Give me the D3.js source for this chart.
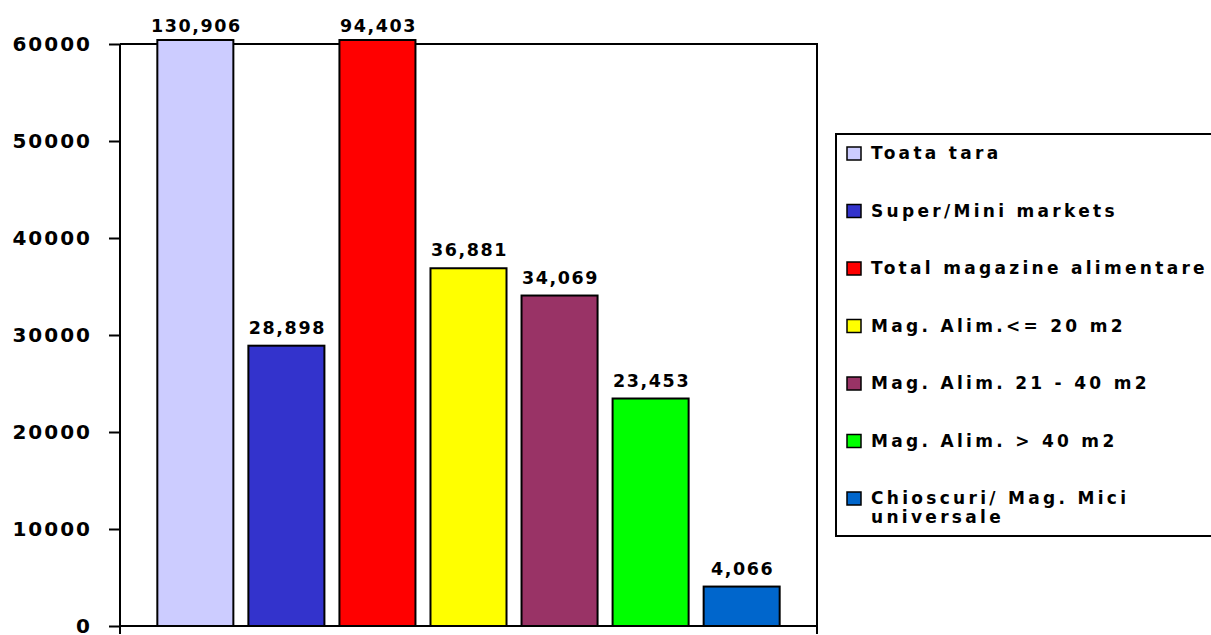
<!DOCTYPE html>
<html>
<head>
<meta charset="utf-8">
<script src="https://cdn.jsdelivr.net/npm/d3@7"></script>
<style>
  body { margin: 0; background: #fff; }
  text { font-family: "DejaVu Sans", sans-serif; font-weight: bold; fill: #000; }
</style>
</head>
<body>
<div id="chart"></div>
<script>
var series = ["Toata tara", "Super/Mini markets", "Total magazine alimentare",
  "Mag. Alim.<= 20 m2", "Mag. Alim. 21 - 40 m2", "Mag. Alim. > 40 m2",
  "Chioscuri/ Mag. Mici universale"];
var values = [130906, 28898, 94403, 36881, 34069, 23453, 4066];
var colors = ["#CCCCFF", "#3333CC", "#FF0000", "#FFFF00", "#993366", "#00FF00", "#0066CC"];
var yTicks = [0, 10000, 20000, 30000, 40000, 50000, 60000];

var W = 1211, H = 635;
var plot = {left: 120, right: 817, top: 44, bottom: 626};

var svg = d3.select("#chart").append("svg")
    .attr("width", W)
    .attr("height", H);

var x = d3.scaleBand()
    .domain(series)
    .range([plot.left, plot.right])
    .paddingInner(0.165)
    .paddingOuter(0.41);

var y = d3.scaleLinear()
    .domain([0, 60000])
    .range([plot.bottom, plot.top]);

var color = d3.scaleOrdinal().domain(series).range(colors);

// frame (top + right)
svg.append("path")
    .attr("d", "M" + plot.left + "," + plot.top + "H" + plot.right + "V" + (plot.bottom + 8))
    .attr("fill", "none")
    .attr("stroke", "#000")
    .attr("stroke-width", 2);

// y axis
var yAxis = d3.axisLeft(y).tickValues(yTicks).tickSize(11).tickPadding(17)
    .tickFormat(d3.format("d"));
var gy = svg.append("g")
    .attr("transform", "translate(" + plot.left + ",0)")
    .call(yAxis);
gy.select(".domain").remove();
gy.selectAll(".tick line").attr("stroke", "#000").attr("stroke-width", 2);
gy.selectAll(".tick text")
    .style("font-size", "20px")
    .style("letter-spacing", "2px")
    .attr("dy", "0.32em");
svg.append("line")
    .attr("x1", plot.left).attr("x2", plot.left)
    .attr("y1", plot.top).attr("y2", plot.bottom + 8)
    .attr("stroke", "#000").attr("stroke-width", 2);

// bars
var bars = svg.selectAll(".bar")
    .data(series)
    .enter().append("rect")
    .attr("class", "bar")
    .attr("x", function(d) { return x(d); })
    .attr("width", x.bandwidth())
    .attr("y", function(d, i) { return values[i] > 60000 ? plot.top - 4 : y(values[i]); })
    .attr("height", function(d, i) {
      var top = values[i] > 60000 ? plot.top - 4 : y(values[i]);
      return plot.bottom - top; })
    .attr("fill", function(d) { return color(d); })
    .attr("stroke", "#000")
    .attr("stroke-width", 2);

// x axis baseline
svg.append("line")
    .attr("x1", plot.left).attr("x2", plot.right)
    .attr("y1", plot.bottom).attr("y2", plot.bottom)
    .attr("stroke", "#000").attr("stroke-width", 2);

// value labels
svg.selectAll(".lbl")
    .data(series)
    .enter().append("text")
    .attr("class", "lbl")
    .attr("x", function(d) { return x(d) + x.bandwidth() / 2 + 1; })
    .attr("y", function(d, i) { return Math.max(y(values[i]), plot.top) - 12; })
    .attr("text-anchor", "middle")
    .style("font-size", "17.5px")
    .style("letter-spacing", "1.6px")
    .text(function(d, i) { return d3.format(",")(values[i]); });

// legend
var lg = svg.append("g").attr("transform", "translate(836,134)");
lg.append("rect")
    .attr("width", 400).attr("height", 402)
    .attr("fill", "#fff")
    .attr("stroke", "#000")
    .attr("stroke-width", 2);

var rowStep = 57.5;
var item = lg.selectAll(".item")
    .data(series)
    .enter().append("g")
    .attr("class", "item")
    .attr("transform", function(d, i) { return "translate(10," + (19 + i * rowStep) + ")"; });

item.append("rect")
    .attr("x", 1).attr("y", -6)
    .attr("width", 14).attr("height", 13)
    .attr("fill", function(d) { return color(d); })
    .attr("stroke", "#000")
    .attr("stroke-width", 1.5);

item.append("text")
    .attr("x", 25)
    .attr("dy", "0.36em")
    .style("font-size", "17px")
    .style("letter-spacing", "3.3px")
    .each(function(d) {
      var t = d3.select(this);
      if (d.indexOf("Chioscuri") === 0) {
        t.append("tspan").attr("x", 25).text("Chioscuri/ Mag. Mici");
        t.append("tspan").attr("x", 25).attr("dy", "1.1em").text("universale");
      } else {
        t.text(d);
      }
    });
</script>
</body>
</html>
